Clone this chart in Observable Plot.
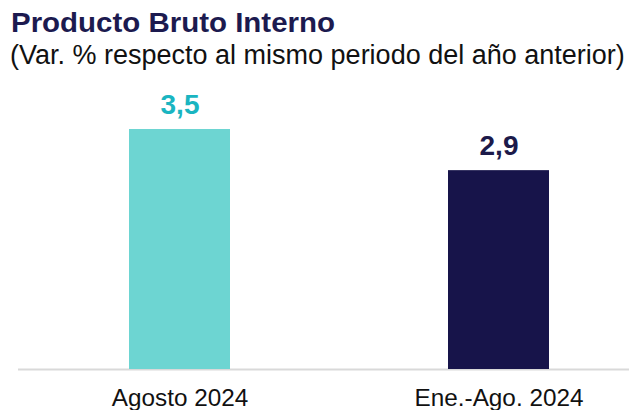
<!DOCTYPE html>
<html>
<head>
<meta charset="utf-8">
<script src="https://cdn.jsdelivr.net/npm/d3@7"></script>
<script src="https://cdn.jsdelivr.net/npm/@observablehq/plot@0.6"></script>
<style>
  html, body { margin: 0; padding: 0; background: #fff; }
  body { width: 629px; height: 410px; overflow: hidden; font-family: "Liberation Sans", Arial, sans-serif; }
  #header { position: relative; height: 80px; }
  #title { position: absolute; left: 11px; top: 9.3px; font-size: 28px; line-height: 28px; font-weight: bold; color: #1c1a4f; white-space: nowrap; transform-origin: 0 0; }
  #subtitle { position: absolute; left: 10px; top: 41.5px; font-size: 27px; line-height: 27px; color: #111; white-space: nowrap; }
</style>
</head>
<body>
<div id="header">
  <div id="title">Producto Bruto Interno</div>
  <div id="subtitle">(Var. % respecto al mismo periodo del año anterior)</div>
</div>
<div id="chart"></div>
<script>
const categories = ["Agosto 2024", "Ene.-Ago. 2024"];
const values = [3.5, 2.9];
const labels = ["3,5", "2,9"];
const barColors = ["#6dd5d2", "#17144a"];
const labelColors = ["#1ab5c1", "#1c1a4a"];

const data = categories.map((c, i) => ({cat: c, value: values[i], label: labels[i], bar: barColors[i], lab: labelColors[i]}));

const chart = Plot.plot({
  width: 629,
  height: 330,
  marginLeft: 80,
  marginRight: 32,
  marginTop: 49,
  marginBottom: 41,
  style: {fontFamily: "'Liberation Sans', Arial, sans-serif", background: "#fff"},
  x: {domain: categories, paddingInner: 0.684, paddingOuter: 0.15, label: null, tickSize: 0, tickPadding: 19},
  y: {domain: [0, 3.5], axis: null},
  marks: [
    Plot.ruleY([0], {stroke: "#d9d9d9", strokeWidth: 2, insetLeft: -62, insetRight: -32}),
    Plot.barY(data, {x: "cat", y: "value", fill: "bar"}),
    Plot.text(data, {x: "cat", y: "value", text: "label", fill: "lab", fontSize: 28, fontWeight: "bold", lineAnchor: "bottom", dy: -16}),
    Plot.axisX({tickSize: 0, tickPadding: 19, fontSize: 24.3, fill: "#111", label: null})
  ]
});
document.getElementById("chart").appendChild(chart);

// stretch title horizontally to match reference width
const t = document.getElementById("title");
const w = t.getBoundingClientRect().width;
t.style.transform = `scaleX(${324 / w})`;
</script>
</body>
</html>
